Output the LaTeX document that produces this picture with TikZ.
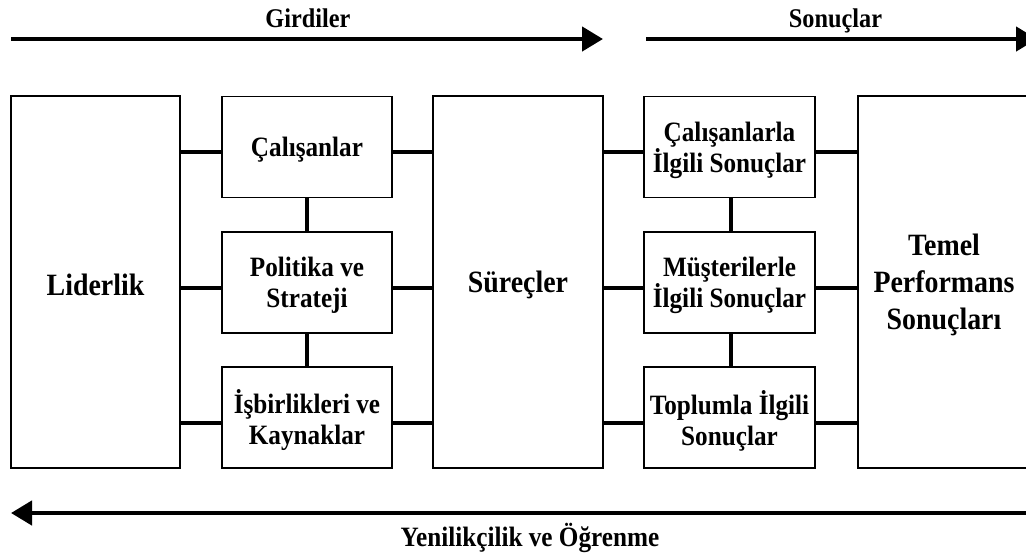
\documentclass[tikz,border=0pt]{standalone}
\usepackage{fontspec}
\setmainfont[FakeStretch=0.9]{Liberation Serif}
\usetikzlibrary{arrows.meta}
\begin{document}
\begin{tikzpicture}[x=1pt,y=-1pt,
  frame/.style={draw, line width=1.5pt, inner sep=0pt},
  smallbox/.style={frame, minimum width=170pt, minimum height=101pt},
  tallbox/.style={frame, minimum height=372pt},
  caption/.style={align=center, inner sep=0pt, yshift=-3pt,
    font=\bfseries\fontsize{28}{31}\selectfont},
  bigcaption/.style={caption, font=\bfseries\fontsize{31}{37}\selectfont},
  link/.style={line width=4pt},
  flow/.style={line width=4.5pt, -{Triangle[length=21pt,width=24pt]}},
  heading/.style={anchor=base, font=\bfseries\fontsize{27}{30}\selectfont}]
\useasboundingbox (0,0) rectangle (1026,558);

% boxes
\node[tallbox, minimum width=169pt] (lid) at (95.5,282) {};
\node[smallbox] (cal) at (307,147) {};
\node[smallbox] (pol) at (307,282.5) {};
\node[smallbox] (isb) at (307,417.5) {};
\node[tallbox, minimum width=170pt] (sur) at (518,282) {};
\node[smallbox, minimum width=171pt] (cs) at (729.5,147) {};
\node[smallbox, minimum width=171pt] (ms) at (729.5,282.5) {};
\node[smallbox, minimum width=171pt] (ts) at (729.5,417.5) {};
\node[tallbox, minimum width=172pt] (tem) at (944,282) {};

% box texts
\node[bigcaption] (lidt) at (lid) {Liderlik};
\node[caption] (calt) at (cal) {Çalışanlar};
\node[caption] (polt) at (pol) {Politika ve\\Strateji};
\node[caption] (isbt) at (isb) {İşbirlikleri ve\\Kaynaklar};
\node[bigcaption] (surt) at (sur) {Süreçler};
\node[caption] (cst) at (cs) {Çalışanlarla\\İlgili Sonuçlar};
\node[caption] (mst) at (ms) {Müşterilerle\\İlgili Sonuçlar};
\node[caption] (tst) at (ts) {Toplumla İlgili\\Sonuçlar};
\node[bigcaption] (temt) at (tem) {Temel\\Performans\\Sonuçları};

% row levels of the horizontal links
\coordinate (r1) at (0,152);
\coordinate (r2) at (0,288);
\coordinate (r3) at (0,423);

\foreach \r in {r1,r2,r3}{
  \draw[link] (lid.east |- \r) -- (cal.west |- \r);
  \draw[link] (cal.east |- \r) -- (sur.west |- \r);
  \draw[link] (sur.east |- \r) -- (cs.west |- \r);
  \draw[link] (cs.east |- \r) -- (tem.west |- \r);
}
\draw[link] (cal.south) -- (pol.north);
\draw[link] (pol.south) -- (isb.north);
\draw[link] ([xshift=1.5pt]cs.south) -- ([xshift=1.5pt]ms.north);
\draw[link] ([xshift=1.5pt]ms.south) -- ([xshift=1.5pt]ts.north);

% flow arrows
\coordinate (g0) at (11,39);
\coordinate (g1) at (603,39);
\coordinate (s0) at (646,39);
\coordinate (s1) at (1037,39);
\coordinate (y0) at (1026,513);
\coordinate (y1) at (11,513);
\draw[flow] (g0) -- (g1);
\draw[flow] (s0) -- (s1);
\draw[flow] (y0) -- (y1);

\node[heading] (gir) at (308,27) {Girdiler};
\node[heading] (son) at (835.5,27) {Sonuçlar};
\node[heading, font=\bfseries\fontsize{28}{30}\selectfont] (yen) at (530,546) {Yenilikçilik ve Öğrenme};
\end{tikzpicture}
\end{document}
